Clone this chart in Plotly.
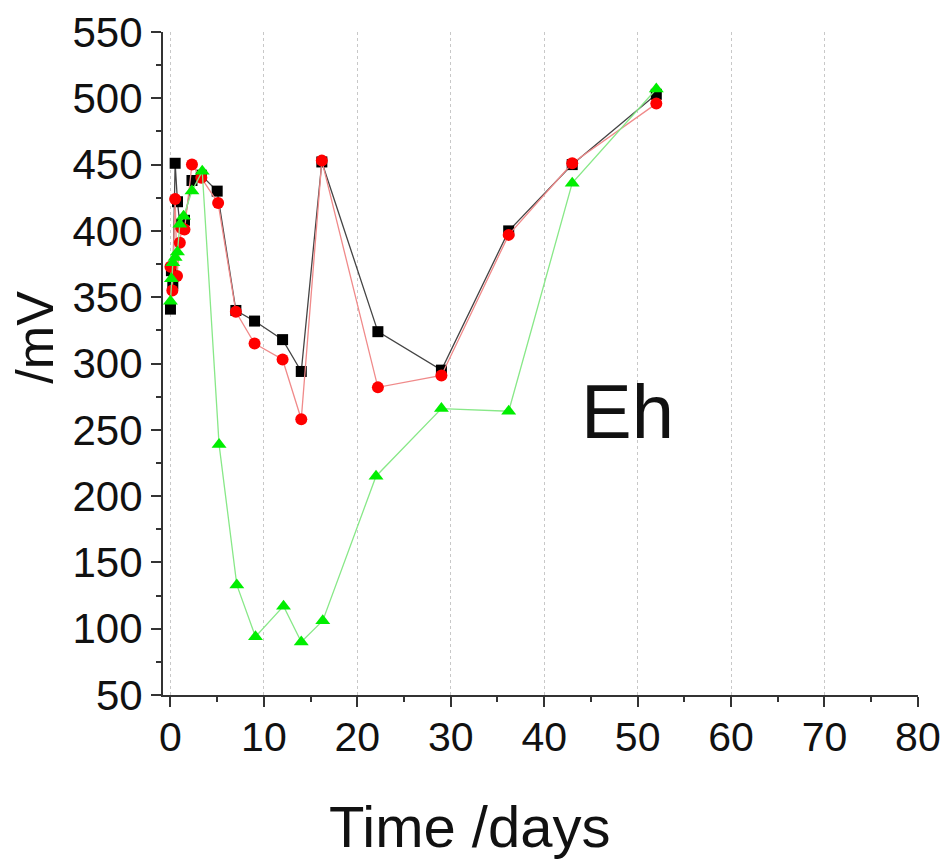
import plotly.graph_objects as go

# ---- data ----
black_days = [0, 0.1, 0.25, 0.5, 0.75, 1.0, 1.5, 2.3, 3.3, 5.0, 7.0, 9.0, 12.0, 14.0, 16.2, 22.2, 29.0, 36.2, 43.0, 52.0]
black_eh   = [341, 370, 360, 451, 422, 405, 408, 438, 442, 430, 340, 332, 318, 294, 452, 324, 295, 400, 450, 503]

red_days = [0, 0.2, 0.5, 0.7, 1.0, 1.2, 1.5, 2.3, 3.3, 5.1, 7.0, 9.0, 12.0, 14.0, 16.2, 22.2, 29.0, 36.2, 43.0, 52.0]
red_eh   = [373, 355, 424, 366, 391, 402, 401, 450, 440, 421, 339, 315, 303, 258, 453, 282, 291, 397, 451, 496]

green_days = [0, 0.1, 0.25, 0.5, 0.75, 1.0, 1.4, 2.3, 3.4, 5.2, 7.1, 9.1, 12.1, 14.0, 16.3, 22.0, 29.0, 36.2, 43.0, 52.0]
green_eh   = [347, 364, 376, 380, 384, 405, 411, 430, 445, 239, 133, 94, 117, 90, 106, 215, 266, 264, 436, 507]

x_ticks = [0, 10, 20, 30, 40, 50, 60, 70, 80]
y_ticks = [50, 100, 150, 200, 250, 300, 350, 400, 450, 500, 550]

FONT = "Liberation Sans, Arial, sans-serif"

fig = go.Figure()
fig.add_trace(go.Scatter(x=black_days, y=black_eh, mode="lines+markers",
                         line=dict(color="#444444", width=1.3),
                         marker=dict(symbol="square", size=11, color="#000000")))
fig.add_trace(go.Scatter(x=red_days, y=red_eh, mode="lines+markers",
                         line=dict(color="#f08a8a", width=1.3),
                         marker=dict(symbol="circle", size=12, color="#ff0000")))
fig.add_trace(go.Scatter(x=green_days, y=green_eh, mode="lines+markers",
                         line=dict(color="#88e888", width=1.3),
                         marker=dict(symbol="triangle-up", size=13, color="#00ee00")))

fig.update_layout(
    width=942, height=862,
    margin=dict(l=163, r=24, t=32, b=167),
    paper_bgcolor="white", plot_bgcolor="white",
    showlegend=False,
    font=dict(family=FONT, color="#111111"),
    xaxis=dict(
        range=[-0.8, 80.01], tickvals=x_ticks, ticktext=[str(v) for v in x_ticks],
        automargin=False, ticklabeloverflow="allow", ticklabelstandoff=-5,
        showline=True, linecolor="#333333", linewidth=2,
        ticks="outside", ticklen=10, tickwidth=2, tickcolor="#333333",
        tickfont=dict(size=41, family=FONT, color="#111111"),
        showgrid=True, gridcolor="#c8c8c8", griddash="dot", gridwidth=1,
        zeroline=False,
        minor=dict(dtick=5, tick0=0, ticks="outside", ticklen=5, tickwidth=2, tickcolor="#333333", showgrid=False),
    ),
    yaxis=dict(
        range=[50, 550], tickvals=y_ticks, ticktext=[str(v) for v in y_ticks],
        automargin=False, ticklabeloverflow="allow",
        showline=True, linecolor="#333333", linewidth=2,
        ticks="outside", ticklen=10, tickwidth=2, tickcolor="#333333",
        tickfont=dict(size=42, family=FONT, color="#111111"),
        showgrid=False, zeroline=False,
        minor=dict(dtick=25, tick0=50, ticks="outside", ticklen=5, tickwidth=2, tickcolor="#333333", showgrid=False),
    ),
    annotations=[
        dict(text="/mV", xref="paper", yref="paper", x=-0.17, y=0.54, textangle=-90,
             showarrow=False, font=dict(size=52, family=FONT, color="#111111"),
             xanchor="center", yanchor="middle"),
        dict(text="Time /days", xref="x", yref="paper", x=32, y=-0.199, showarrow=False,
             font=dict(size=58, family=FONT, color="#111111"),
             xanchor="center", yanchor="middle"),
        dict(text="Eh", xref="x", yref="y", x=48.9, y=264, showarrow=False,
             font=dict(size=76, family=FONT, color="#111111"),
             xanchor="center", yanchor="middle"),
    ],
)

fig.write_html("out.html")
